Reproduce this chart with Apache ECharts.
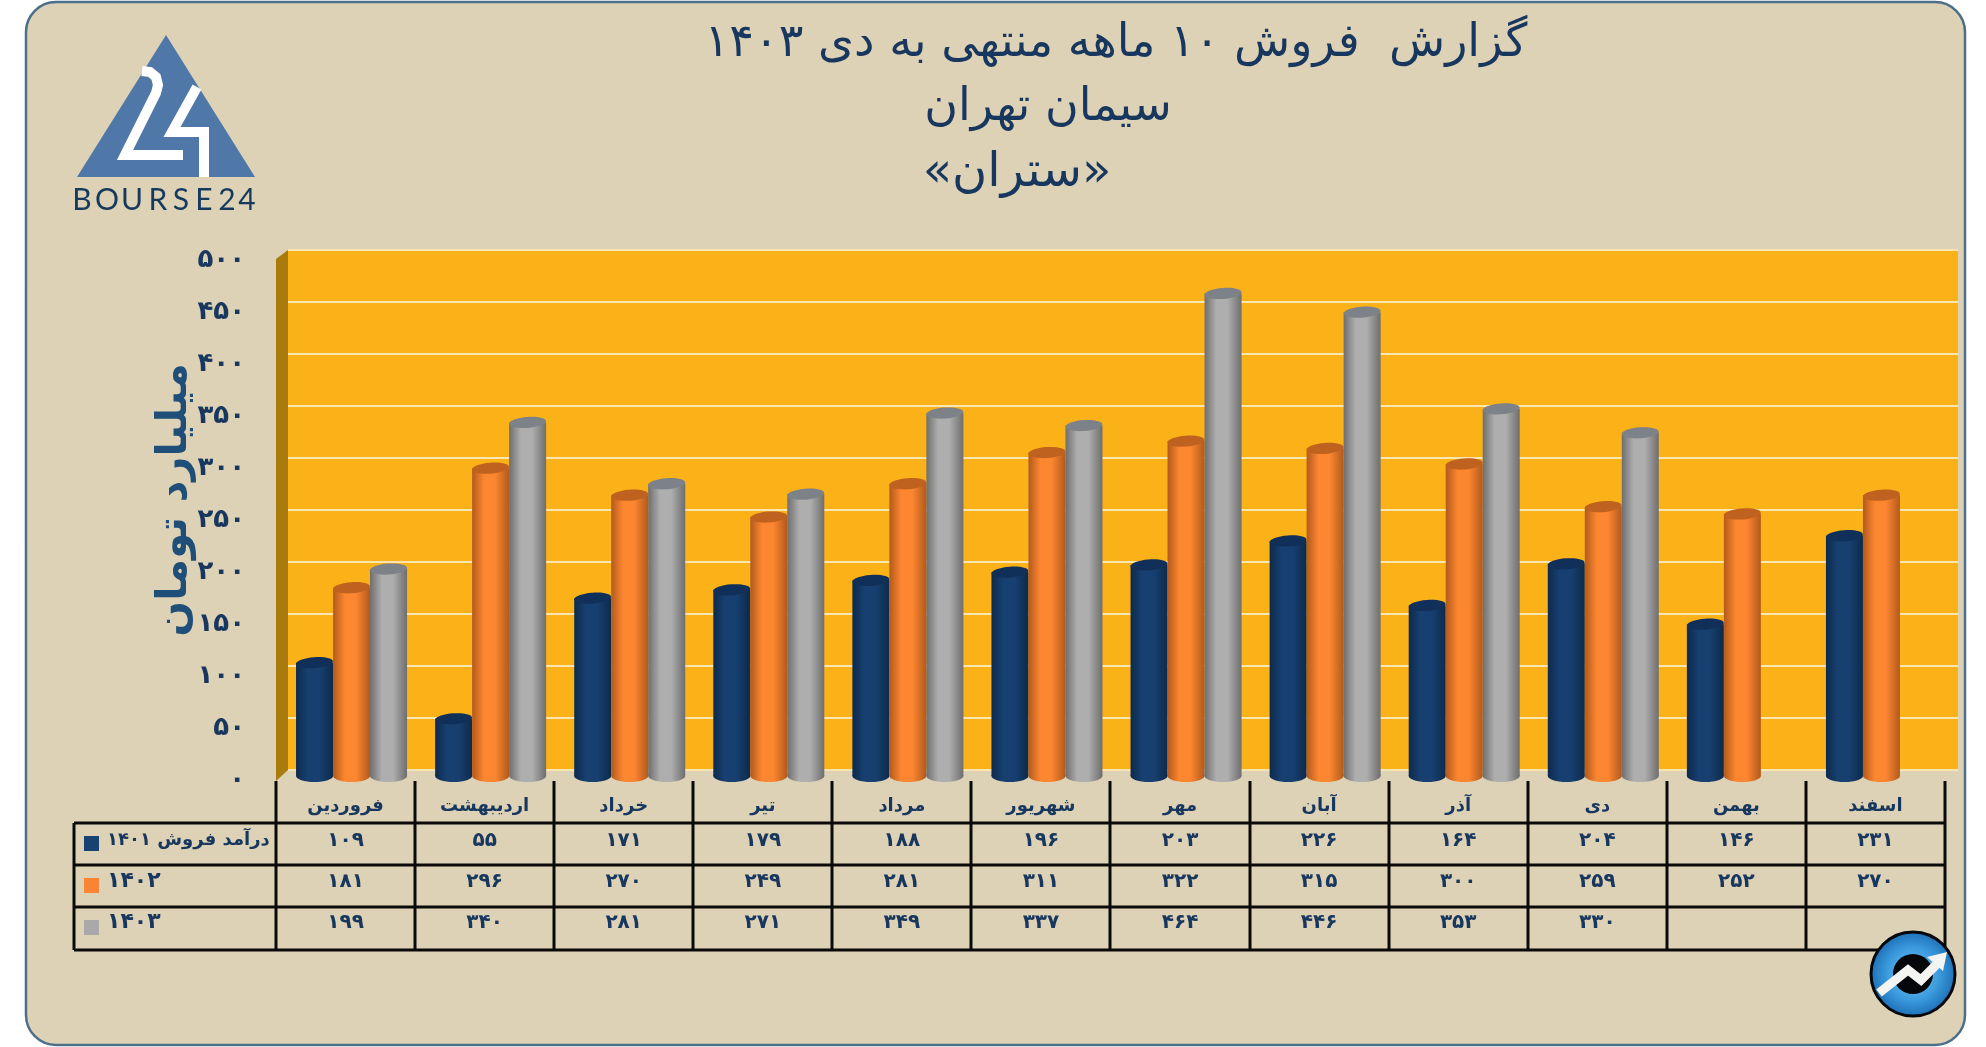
<!DOCTYPE html>
<html lang="fa"><head><meta charset="utf-8">
<style>html,body{margin:0;padding:0;background:#fff}#c{width:1986px;height:1047px}</style>
<script src="https://cdn.jsdelivr.net/npm/echarts@6/dist/echarts.min.js"></script>
</head><body><div id="c"></div>
<script>
const months=['فروردین','اردیبهشت','خرداد','تیر','مرداد','شهریور','مهر','آبان','آذر','دی','بهمن','اسفند'];
const sales1401=[109,55,171,179,188,196,203,226,164,204,146,231];
const sales1402=[181,296,270,249,281,311,322,315,300,259,252,270];
const sales1403=[199,340,281,271,349,337,464,446,353,330,null,null];
const rowNames=['درآمد فروش ۱۴۰۱','۱۴۰۲','۱۴۰۳'];
const titleLines=['گزارش  فروش ۱۰ ماهه منتهی به دی ۱۴۰۳','سیمان تهران','«ستران»'];
const yName='میلیارد تومان';
const logoLetters=['B','O','U','R','S','E','2','4'];

const INK='#17375E', FONT='"DejaVu Sans"';
const fa=n=>n==null?'':String(n).replace(/\d/g,d=>'۰۱۲۳۴۵۶۷۸۹'[d]);
const styles=[
 {edge:'#0D2A4C',mid:'#174070',top:'#10305A',key:'#174271'},
 {edge:'#B25A1C',mid:'#FD8630',top:'#BF611F',key:'#F98432'},
 {edge:'#6E6E6E',mid:'#AEAEAE',top:'#7D8288',key:'#A9A9A9'}];
const BARW=37, ROWY=[841,882,923], KEYY=[844,886,928];
const TL=74,TR=1945,COLX=276,COLW=139.08,LINES=[823,865,907,950];

function cyl(si){return (p,api)=>{
  const v=api.value(1); if(v==null||isNaN(v))return null;
  const top=api.coord([api.value(0),v]), base=api.coord([api.value(0),0]);
  const cx=top[0]+6+(si-1)*BARW, rx=BARW/2, ry=6, s=styles[si];
  const fill={type:'linear',x:0,y:0,x2:1,y2:0,colorStops:[
    {offset:0,color:s.edge},{offset:.32,color:s.mid},{offset:.62,color:s.mid},{offset:1,color:s.edge}]};
  return {type:'group',children:[
    {type:'ellipse',shape:{cx:cx,cy:base[1],rx:rx,ry:ry},style:{fill:fill}},
    {type:'rect',shape:{x:cx-rx,y:top[1],width:BARW,height:base[1]-top[1]},style:{fill:fill}},
    {type:'ellipse',shape:{cx:cx,cy:top[1],rx:rx,ry:ry-0.5},rotation:0.07,originX:cx,originY:top[1],style:{fill:s.top}}
  ]};
};}
function series(name,data,si){return {type:'custom',name:name,xAxisIndex:1,yAxisIndex:1,
  data:data.map((v,i)=>[i,v]),renderItem:cyl(si),encode:{x:0,y:1},clip:false,z:3+si};}
function tableRow(data,ri){return {type:'custom',name:'t'+ri,xAxisIndex:1,yAxisIndex:1,silent:true,
  data:data.map((v,i)=>[i,v]),encode:{x:0},clip:false,z:5,tooltip:{show:false},
  renderItem:(p,api)=>{const x=api.coord([api.value(0),0])[0];const v=data[api.value(0)];
    return {type:'text',style:{x:x,y:ROWY[ri],text:fa(v),fill:INK,align:'center',verticalAlign:'middle',font:'bold 20px '+FONT}};}};}

const g=[];
g.push({type:'rect',z:-5,shape:{x:26,y:2,width:1939,height:1043,r:30},style:{fill:'#DED2B6',stroke:'#4C6F8A',lineWidth:2.5}});
g.push({type:'polygon',z:1,shape:{points:[[276,259],[288,250],[288,770],[276,781]]},style:{fill:'#A97A0E'}});
LINES.forEach(y=>g.push({type:'line',z:6,shape:{x1:TL,y1:y,x2:TR,y2:y},style:{stroke:'#0a0a0a',lineWidth:3}}));
g.push({type:'line',z:6,shape:{x1:TL,y1:823,x2:TL,y2:950},style:{stroke:'#0a0a0a',lineWidth:3}});
for(let i=0;i<=months.length;i++){const x=Math.round(COLX+i*COLW);
  g.push({type:'line',z:6,shape:{x1:x,y1:781,x2:x,y2:950},style:{stroke:'#0a0a0a',lineWidth:3}});}
rowNames.forEach((t,i)=>{
  g.push({type:'rect',z:6,shape:{x:84,y:KEYY[i]-8,width:15,height:15},style:{fill:styles[i].key}});
  g.push({type:'text',z:6,style:{x:107,y:ROWY[i]-1,text:t,fill:INK,font:'bold '+(i?22:18)+'px '+FONT,align:'left',verticalAlign:'middle'}});
});
const tPos=[[1116,44,46],[1048,108,46],[1017,174,48]];
titleLines.forEach((t,i)=>g.push({type:'text',z:6,style:{x:tPos[i][0],y:tPos[i][1],text:t,fill:INK,align:'center',verticalAlign:'middle',font:tPos[i][2]+'px '+FONT}}));
// logo
g.push({type:'polygon',z:6,shape:{points:[[166,35],[77,177],[255,177]]},style:{fill:'#4F78A8'}});
g.push({type:'polyline',z:7,shape:{points:[[142,71],[150,72],[156,77],[158,85],[156,93],[125,155],[183,155]]},style:{stroke:'#fff',lineWidth:10,fill:'none'}});
g.push({type:'polyline',z:7,shape:{points:[[197,87],[172,132],[204,132],[204,177]]},style:{stroke:'#fff',lineWidth:10,fill:'none'}});
const letterX=[82,107,132,158,181,204,227,247];
logoLetters.forEach((l,i)=>g.push({type:'text',z:7,style:{x:letterX[i],y:200,text:l,fill:'#153A5E',align:'center',verticalAlign:'middle',font:'30px Lato'}}));
// badge
g.push({type:'circle',z:8,shape:{cx:1913,cy:974,r:42},style:{fill:{type:'radial',x:.5,y:.5,r:.5,colorStops:[{offset:0,color:'#7CC8F4'},{offset:.6,color:'#3B9BDD'},{offset:1,color:'#1C6DB5'}]},stroke:'#05070A',lineWidth:3}});
g.push({type:'circle',z:8,shape:{cx:1913,cy:974,r:20},style:{fill:'#05070A'}});
g.push({type:'polyline',z:9,shape:{points:[[1879,993],[1908,970],[1921,980],[1940,961]]},style:{stroke:'#F4F4F2',lineWidth:9,fill:'none'}});
g.push({type:'polygon',z:9,shape:{points:[[1927,957],[1947,952],[1943,971]]},style:{fill:'#F4F4F2'}});

const chart=echarts.init(document.getElementById('c'),null,{renderer:'canvas'});
chart.setOption({
 animation:false,backgroundColor:'#fff',
 textStyle:{fontFamily:FONT},
 tooltip:{trigger:'item'},
 graphic:{elements:g},
 grid:[
  {left:288,top:250,width:1670,height:520,show:true,backgroundColor:'#FBB118',borderWidth:0},
  {left:276,top:256,width:1669,height:520},
  {left:276,top:260,width:1669,height:520}
 ],
 xAxis:[
  {gridIndex:0,type:'category',data:months,show:false},
  {gridIndex:1,type:'category',data:months,axisLine:{show:false},axisTick:{show:false},
   axisLabel:{margin:21,color:INK,fontWeight:'bold',fontSize:18,fontFamily:FONT,interval:0}},
  {gridIndex:2,type:'category',data:months,show:false}
 ],
 yAxis:[
  {gridIndex:0,type:'value',min:0,max:500,interval:50,axisLine:{show:false},axisTick:{show:false},axisLabel:{show:false},
   splitLine:{show:true,lineStyle:{color:'#FBE5B0',width:2,type:'solid'}}},
  {gridIndex:1,type:'value',min:0,max:500,interval:50,splitLine:{show:false},axisLine:{show:false},axisTick:{show:false},axisLabel:{show:false}},
  {gridIndex:2,type:'value',min:0,max:500,interval:50,splitLine:{show:false},axisLine:{show:false},axisTick:{show:false},
   axisLabel:{margin:31,color:INK,fontWeight:'bold',fontSize:26,fontFamily:FONT,formatter:v=>fa(v)},
   name:yName,nameLocation:'middle',nameRotate:90,nameGap:80,nameMoveOverlap:false,
   nameTextStyle:{color:'#1F4E79',fontSize:42,fontWeight:'bold',fontFamily:FONT,padding:[0,0,0,40]}}
 ],
 series:[
  {type:'custom',xAxisIndex:0,yAxisIndex:0,silent:true,data:[],renderItem:()=>null},
  {type:'custom',xAxisIndex:2,yAxisIndex:2,silent:true,data:[],renderItem:()=>null},
  series('۱۴۰۱',sales1401,0),series('۱۴۰۲',sales1402,1),series('۱۴۰۳',sales1403,2),
  tableRow(sales1401,0),tableRow(sales1402,1),tableRow(sales1403,2)
 ]
});
</script></body></html>
